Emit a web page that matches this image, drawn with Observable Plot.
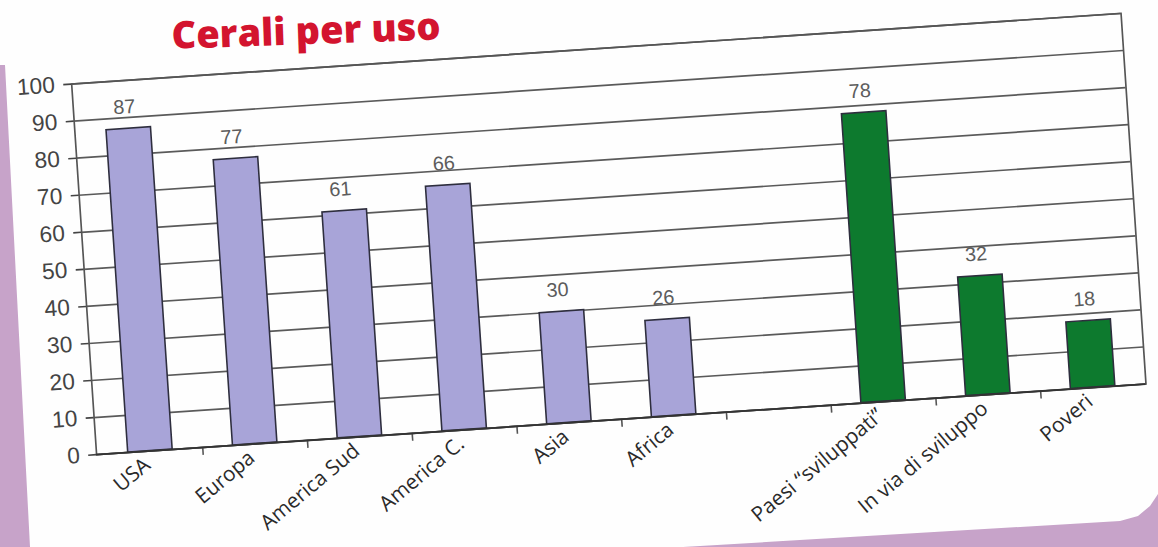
<!DOCTYPE html>
<html>
<head>
<meta charset="utf-8">
<script src="https://cdn.jsdelivr.net/npm/d3@7"></script>
<script src="https://cdn.jsdelivr.net/npm/@observablehq/plot@0.6"></script>
<style>
  html, body { margin: 0; padding: 0; }
  body { width: 1158px; height: 547px; overflow: hidden; position: relative; background: #c7a3c9; }
  #paper {
    position: absolute; left: 0; top: 0; width: 1158px; height: 547px; background: #fefefe;
    clip-path: polygon(0px 0px, 1158px 0px, 1158px 494px, 1150px 506px, 1138px 516px, 1120px 521px, 683px 547px, 30px 547px, 5px 65px, 0px 65px);
  }
  #title {
    position: absolute; left: 168px; top: 8px; margin: 0; padding: 0 4px;
    font-family: "Open Sans", "DejaVu Sans", sans-serif;
    font-weight: 800; font-size: 38px; line-height: normal; color: #d3142f; white-space: nowrap;
    transform-origin: 0 41px; transform: rotate(-2deg);
  }
  #chart {
    position: absolute; left: 27px; top: 53px;
    transform-origin: 70px 405px; transform: rotate(-3.85deg);
  }
</style>
</head>
<body>
<div id="paper"></div>
<div id="title">Cerali per uso</div>
<div id="chart"></div>
<script>
// Data
const categories = ["USA", "Europa", "America Sud", "America C.", "Asia", "Africa", "", "Paesi \u201Csviluppati\u201D", "In via di sviluppo", "Poveri"];
const values = [87, 77, 61, 66, 30, 26, null, 78, 32, 18];
const groups = ["aree", "aree", "aree", "aree", "aree", "aree", null, "paesi", "paesi", "paesi"];
const yTicks = [0, 10, 20, 30, 40, 50, 60, 70, 80, 90, 100];

const groupDomain = ["aree", "paesi"];
const groupColors = ["#a8a4d8", "#0d7a2e"];

const data = categories
  .map((c, i) => ({c, v: values[i], g: groups[i]}))
  .filter(d => d.v != null);

const W = 1062, ML = 70, MR = 10, MT = 30, MB = 120, PH = 375;
const step = W / categories.length;

const chart = Plot.plot({
  width: ML + W + MR,
  height: MT + PH + MB,
  marginLeft: ML, marginRight: MR, marginTop: MT, marginBottom: MB,
  style: {background: "transparent", fontFamily: "'Liberation Sans', Arial, sans-serif"},
  x: {domain: categories, paddingInner: 0.58, paddingOuter: 0.29, label: null},
  y: {domain: [0, 100], label: null},
  color: {domain: groupDomain, range: groupColors},
  marks: [
    Plot.ruleY(yTicks, {stroke: "#5a5a5a", strokeWidth: 1.7}),
    Plot.frame({stroke: "#555", strokeWidth: 1.7}),
    Plot.ruleX(categories.slice(1), {x: d => d, y1: 0, y2: 0, dx: -step / 2, insetTop: 0, insetBottom: -8, stroke: "#555", strokeWidth: 1.6}),
    Plot.barY(data, {x: "c", y: "v", fill: "g", stroke: "#2e2e3e", strokeWidth: 1.6}),
    Plot.text(data, {x: "c", y: "v", text: d => String(d.v), dy: -22, dx: -3, fill: "#5c5c5c", fontSize: 20, fontFamily: "'Liberation Sans', Arial, sans-serif"}),
    Plot.axisY({ticks: yTicks, tickSize: 8, tickPadding: 9, fontSize: 23, color: "#444", strokeWidth: 1.6, label: null, fontFamily: "'Liberation Sans', Arial, sans-serif"}),
    Plot.axisX({tickSize: 0, tickPadding: 11, tickRotate: -36, fontSize: 21, color: "#2a2a2a", label: null, dx: -4, lineWidth: Infinity, fontFamily: "'Open Sans', sans-serif"}),
    Plot.ruleY([0], {stroke: "#333", strokeWidth: 1.8})
  ]
});
document.getElementById("chart").appendChild(chart);
</script>
</body>
</html>
